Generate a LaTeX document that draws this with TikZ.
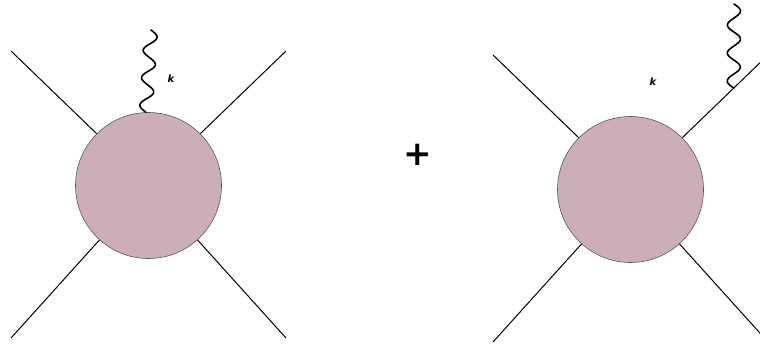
\documentclass[tikz,border=0pt]{standalone}
\usepackage{fontspec}
\newfontfamily\lblfont{DejaVu Sans}
\usetikzlibrary{calc}
\begin{document}
\begin{tikzpicture}[x=1pt,y=-1pt,
  blob/.style={circle,draw=black!65,line width=0.6pt,fill=blobc,minimum size=146pt,inner sep=0pt},
  leg/.style={draw=black,line width=1pt},
  photon/.style={draw=black,line width=1.6pt,line cap=round},
  lbl/.style={font=\lblfont\bfseries\itshape\fontsize{10}{10}\selectfont,inner sep=0pt},
  plus/.style={font=\lblfont\bfseries\itshape\fontsize{34}{34}\selectfont,inner sep=0pt}]
\definecolor{blobc}{RGB}{203,174,183}
\useasboundingbox (0,0) rectangle (760,345);
\clip (0,0) rectangle (760,345);
% left diagram
\node[blob] (c1) at (148.5,185.5) {};
\coordinate (a1) at (11,51);
\coordinate (b1) at (286,51);
\coordinate (d1) at (11,338);
\coordinate (e1) at (286,338);
\draw[leg] (c1.135) -- (a1);
\draw[leg] (c1.45) -- (b1);
\draw[leg] (c1.-132) -- (d1);
\draw[leg] (c1.-48) -- (e1);
\coordinate (s1) at (c1.92);
\coordinate (w1) at (151,30);
\path let \p1=($(w1)-(s1)$), \n1={atan2(\y1,\x1)}, \n2={veclen(\x1,\y1)} in
  [shift={(s1)}, rotate=\n1]
  [photon] (0,0) plot[domain=0:\n2, samples=90, smooth, variable=\t] (\t, {6.5*sin(\t/\n2*3*360)});
\node[lbl] (k1) at (171,79) {k};
% plus
\node[plus] (p) at (418,155) {+};
% right diagram
\node[blob] (c2) at (630.5,189.5) {};
\coordinate (a2) at (493,55);
\coordinate (b2) at (768,55);
\coordinate (d2) at (493,342);
\coordinate (e2) at (768,342);
\draw[leg] (c2.135) -- (a2);
\draw[leg] (c2.45) -- coordinate[pos=0.6] (m2) (b2);
\draw[leg] (c2.-132) -- (d2);
\draw[leg] (c2.-48) -- (e2);
\coordinate (w2) at (734,4);
\path let \p1=($(w2)-(m2)$), \n1={atan2(\y1,\x1)}, \n2={veclen(\x1,\y1)} in
  [shift={(m2)}, rotate=\n1]
  [photon] (0,0) plot[domain=0:\n2, samples=90, smooth, variable=\t] (\t, {6.5*sin(\t/\n2*3*360)});
\node[lbl] (k2) at (653,82) {k};
\end{tikzpicture}
\end{document}
